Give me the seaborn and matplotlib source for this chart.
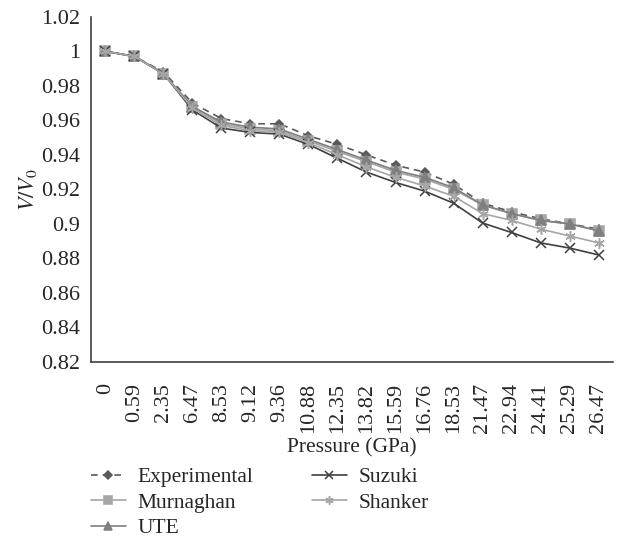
import seaborn as sns
import matplotlib.pyplot as plt
import matplotlib.ticker as mticker
import numpy as np

# Dati
pressure = ['0', '0.59', '2.35', '6.47', '8.53', '9.12', '9.36', '10.88', '12.35',
            '13.82', '15.59', '16.76', '18.53', '21.47', '22.94', '24.41', '25.29', '26.47']
experimental = [1.0, 0.997, 0.988, 0.970, 0.961, 0.958, 0.958, 0.951, 0.946,
                0.940, 0.934, 0.930, 0.923, 0.912, 0.907, 0.903, 0.900, 0.897]
murnaghan = [1.0, 0.997, 0.987, 0.968, 0.958, 0.955, 0.954, 0.948, 0.942,
             0.936, 0.930, 0.926, 0.920, 0.911, 0.906, 0.902, 0.900, 0.896]
ute = [1.0, 0.997, 0.987, 0.968, 0.959, 0.956, 0.955, 0.949, 0.943,
       0.937, 0.931, 0.927, 0.921, 0.911, 0.906, 0.902, 0.900, 0.896]
suzuki = [1.0, 0.997, 0.987, 0.966, 0.9555, 0.953, 0.952, 0.946, 0.938,
          0.930, 0.924, 0.919, 0.912, 0.9005, 0.895, 0.889, 0.886, 0.882]
shanker = [1.0, 0.997, 0.987, 0.967, 0.957, 0.954, 0.953, 0.947, 0.940,
           0.933, 0.927, 0.922, 0.916, 0.906, 0.902, 0.897, 0.893, 0.889]

sns.set_style('white')
plt.rcParams['font.family'] = ['Liberation Serif', 'DejaVu Serif']
plt.rcParams['mathtext.fontset'] = 'stix'

fig = plt.figure(figsize=(6.23, 5.41), dpi=100)
ax = fig.add_axes([0.146, 0.331, 0.838, 0.638])

x = np.arange(len(pressure))

# stile delle serie: (valori, etichetta, colore, marker, linea, dimensione)
series = [
    (experimental, 'Experimental', '#595959', 'D', (0, (4, 3)), 4.5),
    (murnaghan, 'Murnaghan', '#a6a6a6', 's', '-', 6.5),
    (ute, 'UTE', '#7f7f7f', '^', '-', 6.5),
    (suzuki, 'Suzuki', '#404040', 'x', '-', 7.5),
    (shanker, 'Shanker', '#a6a6a6', (6, 2, 0), '-', 7.5),
]
for vals, lab, col, mk, ls, ms in series:
    sns.lineplot(x=x, y=vals, ax=ax, color=col, marker=mk, linestyle=ls,
                 markersize=ms, markeredgecolor=col, markerfacecolor=col,
                 markeredgewidth=1.1, linewidth=1.2, label=lab)

ax.set_xlim(-0.5, len(pressure) - 0.5)
ax.set_ylim(0.82, 1.02)
ax.yaxis.set_major_locator(mticker.MultipleLocator(0.02))
ax.yaxis.set_major_formatter(mticker.FuncFormatter(lambda v, p: f'{round(v, 2):g}'))

ax.set_xticks(x)
ax.set_xticklabels(pressure, rotation=90)
ax.set_xticks(np.arange(len(pressure) + 1) - 0.5, minor=True)
ax.tick_params(axis='x', which='major', length=0, pad=15, labelsize=16)
ax.tick_params(axis='x', which='minor', length=5, width=1, color='#404040', direction='out')
ax.tick_params(axis='y', length=5, width=1, color='#404040', direction='out', labelsize=16, pad=3)

for s in ['top', 'right']:
    ax.spines[s].set_visible(False)
for s in ['left', 'bottom']:
    ax.spines[s].set_color('#404040')
    ax.spines[s].set_linewidth(1.2)

ax.set_xlabel('Pressure (GPa)', fontsize=15.5, labelpad=4)
ax.set_ylabel(r'$V/V_0$', fontsize=16, labelpad=1)

ax.legend(ncol=2, loc='upper left', bbox_to_anchor=(-0.017, -0.28), frameon=False,
          fontsize=15.5, handlelength=1.63, columnspacing=2.7, labelspacing=0.25,
          handletextpad=0.55, borderaxespad=0, markerscale=0.8)

fig.savefig('out.png', dpi=100)
